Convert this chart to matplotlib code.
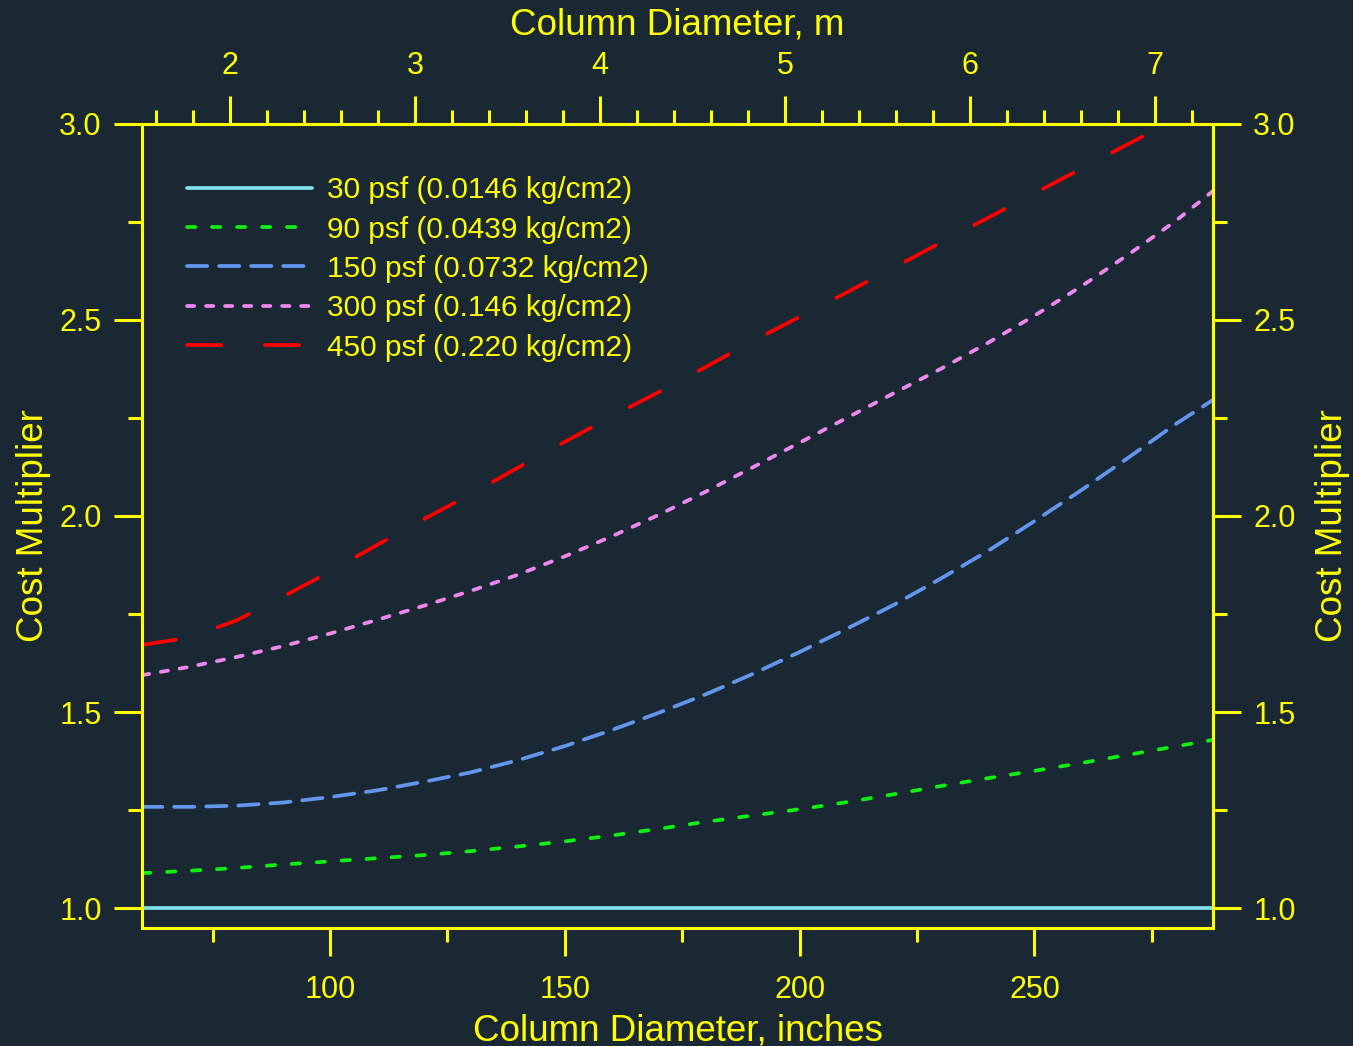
import matplotlib
matplotlib.use("Agg")
import matplotlib.pyplot as plt
from matplotlib.ticker import FixedLocator, FormatStrFormatter

plt.rcParams['font.family'] = ['Liberation Sans', 'DejaVu Sans']
plt.rcParams['lines.scale_dashes'] = False

# ---- data ----
diam_in = [60, 70, 80, 90, 100, 110, 120, 130, 140, 150, 160, 170, 180, 190, 200,
           210, 220, 230, 240, 250, 260, 270, 280, 288]
psf30 = [1.0] * len(diam_in)
psf90 = [1.089, 1.095, 1.102, 1.111, 1.119, 1.127, 1.135, 1.145, 1.157, 1.170, 1.185, 1.202,
         1.220, 1.236, 1.252, 1.270, 1.290, 1.311, 1.331, 1.350, 1.370, 1.391, 1.412, 1.429]
psf150 = [1.258, 1.258, 1.261, 1.269, 1.283, 1.300, 1.322, 1.346, 1.377, 1.413, 1.454, 1.498,
          1.545, 1.597, 1.653, 1.712, 1.773, 1.840, 1.910, 1.987, 2.066, 2.149, 2.234, 2.296]
psf300 = [1.594, 1.615, 1.640, 1.668, 1.700, 1.735, 1.771, 1.809, 1.850, 1.897, 1.948, 2.003,
          2.062, 2.124, 2.187, 2.250, 2.313, 2.375, 2.441, 2.511, 2.586, 2.667, 2.752, 2.829]
psf450 = [1.671, 1.690, 1.733, 1.794, 1.858, 1.926, 1.992, 2.056, 2.123, 2.189, 2.254, 2.316,
          2.380, 2.446, 2.508, 2.570, 2.633, 2.697, 2.760, 2.823, 2.886, 2.949, 3.012, 3.062]
labels = ["30 psf (0.0146 kg/cm2)", "90 psf (0.0439 kg/cm2)", "150 psf (0.0732 kg/cm2)",
          "300 psf (0.146 kg/cm2)", "450 psf (0.220 kg/cm2)"]
x_major_in = [100, 150, 200, 250]
x_minor_in = [75, 125, 175, 225, 275]
x_major_m = [2, 3, 4, 5, 6, 7]
x_minor_m = [1.6, 1.8, 2.2, 2.4, 2.6, 2.8, 3.2, 3.4, 3.6, 3.8, 4.2, 4.4, 4.6, 4.8,
             5.2, 5.4, 5.6, 5.8, 6.2, 6.4, 6.6, 6.8, 7.2]
y_major = [1.0, 1.5, 2.0, 2.5, 3.0]
y_minor = [1.25, 1.75, 2.25, 2.75]
xlabel_bottom = "Column Diameter, inches"
xlabel_top = "Column Diameter, m"
ylabel = "Cost Multiplier"

BG = '#1a2834'
FG = '#ffff00'
colors = ['#80e0e8', '#11ee11', '#6495ed', '#ee88ee', '#ff0000']
dashes = [None, (6.0, 12.0), (14.6, 8.5), (5.2, 8.5), (24.6, 31.5)]

fig = plt.figure(figsize=(13.53, 10.46), dpi=100, facecolor=BG)
ax = fig.add_axes([0.105, 0.1128, 0.7915, 0.7687])
ax.set_facecolor(BG)

series = [psf30, psf90, psf150, psf300, psf450]
for ys, c, d, lab in zip(series, colors, dashes, labels):
    line, = ax.plot(diam_in, ys, color=c, lw=2.7, label=lab,
                    solid_capstyle='round', dash_capstyle='round')
    if d is not None:
        line.set_dashes(d)

ax.set_xlim(60, 288)
ax.set_ylim(0.949, 3.0)

ax.xaxis.set_major_locator(FixedLocator(x_major_in))
ax.xaxis.set_minor_locator(FixedLocator(x_minor_in))
ax.yaxis.set_major_locator(FixedLocator(y_major))
ax.yaxis.set_minor_locator(FixedLocator(y_minor))
ax.yaxis.set_major_formatter(FormatStrFormatter('%.1f'))


def style_axis(a, which_axis, pad):
    a.tick_params(axis=which_axis, which='major', direction='out', length=20, width=2.2,
                  color=FG, labelcolor=FG, labelsize=22, pad=pad)
    a.tick_params(axis=which_axis, which='minor', direction='out', length=10, width=2.2,
                  color=FG)


style_axis(ax, 'x', 14)
style_axis(ax, 'y', 9)
for s in ax.spines.values():
    s.set_color(FG)
    s.set_linewidth(2.2)

ax.set_xlabel(xlabel_bottom, color=FG, fontsize=26.5, labelpad=6)
ax.set_ylabel(ylabel, color=FG, fontsize=26.5, labelpad=6)

secx = ax.secondary_xaxis('top', functions=(lambda x: x * 0.0254, lambda m: m / 0.0254))
secx.xaxis.set_major_locator(FixedLocator(x_major_m))
secx.xaxis.set_minor_locator(FixedLocator(x_minor_m))
style_axis(secx, 'x', 11)
secx.set_xlabel(xlabel_top, color=FG, fontsize=26.5, labelpad=12)
for s in secx.spines.values():
    s.set_color(FG)
    s.set_linewidth(2.2)

secy = ax.secondary_yaxis('right')
secy.yaxis.set_major_locator(FixedLocator(y_major))
secy.yaxis.set_minor_locator(FixedLocator(y_minor))
secy.yaxis.set_major_formatter(FormatStrFormatter('%.1f'))
style_axis(secy, 'y', 9)
secy.set_ylabel(ylabel, color=FG, fontsize=26.5, labelpad=14)
for s in secy.spines.values():
    s.set_color(FG)
    s.set_linewidth(2.2)

leg = ax.legend(loc='upper left', bbox_to_anchor=(0.042, 0.935), frameon=False,
                fontsize=21.5, handlelength=4.2, handletextpad=0.5, labelspacing=0.38,
                borderpad=0, borderaxespad=0)
for t in leg.get_texts():
    t.set_color(FG)

fig.savefig('out.png', dpi=100, facecolor=BG)
